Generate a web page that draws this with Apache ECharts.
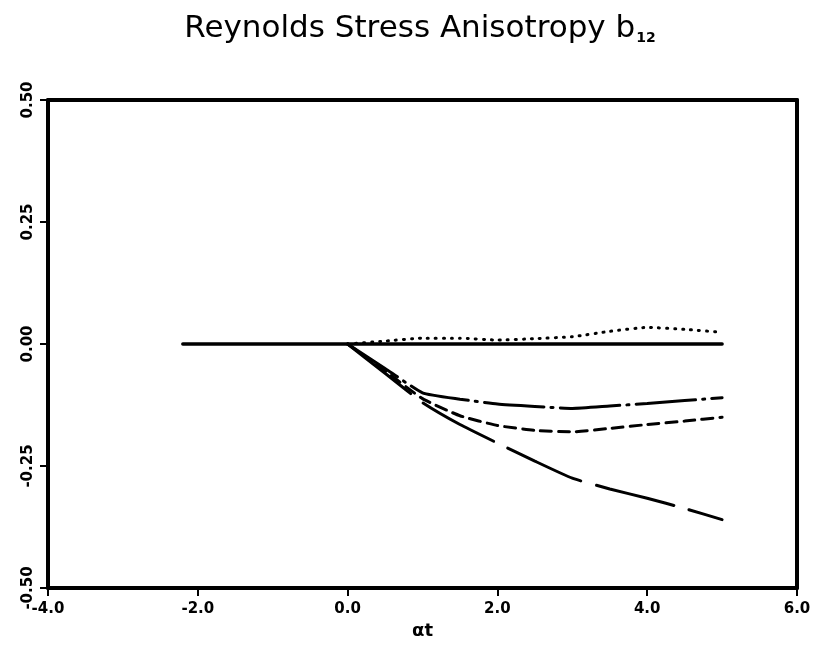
<!DOCTYPE html>
<html>
<head>
<meta charset="utf-8">
<script src="https://cdn.jsdelivr.net/npm/echarts@6/dist/echarts.min.js"></script>
<style>
  html, body { margin: 0; padding: 0; background: #fff; }
  #main { width: 836px; height: 650px; }
</style>
</head>
<body>
<div id="main"></div>
<script>
// data: b12 against alpha*t
var solidX = [-2.2, 0.0, 1.0, 2.0, 3.0, 4.0, 5.0];
var solidY = [0.0, 0.0, 0.0, 0.0, 0.0, 0.0, 0.0];

var curveX = [0.0, 0.5, 1.0, 1.5, 2.0, 2.5, 3.0, 3.5, 4.0, 4.5, 5.0];
var dotY = [0.0, 0.006, 0.012, 0.012, 0.008, 0.011, 0.015, 0.026, 0.034, 0.030, 0.024];
var dashDotY = [0.0, -0.05, -0.1, -0.113, -0.123, -0.128, -0.132, -0.127, -0.122, -0.116, -0.11];
var dashY = [0.0, -0.055, -0.112, -0.147, -0.167, -0.177, -0.18, -0.173, -0.165, -0.158, -0.15];
var longDashY = [0.0, -0.06, -0.12, -0.165, -0.203, -0.24, -0.275, -0.297, -0.316, -0.337, -0.36];

var xTicks = [-4.0, -2.0, 0.0, 2.0, 4.0, 6.0];
var yTicks = [-0.5, -0.25, 0.0, 0.25, 0.5];

function pairs(xs, ys) {
	var out = [];
	for (var i = 0; i < xs.length; i++) {
		out.push([xs[i], ys[i]]);
	}
	return out;
}

var myChart = echarts.init(document.getElementById('main'));

function lineSeries(name, xs, ys, dash, w) {
	return {
		type: 'line',
		name: name,
		data: pairs(xs, ys),
		symbol: 'none',
		smooth: 0.15,
		lineStyle: {
			color: '#000',
			width: w || 3,
			type: dash,
			cap: 'round'
		}
	};
}

// plain frame axis for the top / right edges
function frameAxis(pos, min, max) {
	return {
		type: 'value', min: min, max: max, position: pos,
		axisLine: { show: true, onZero: false, lineStyle: { color: '#000', width: 4 } },
		axisTick: { show: false }, axisLabel: { show: false }, splitLine: { show: false }
	};
}

var option = {
	animation: false,
	backgroundColor: '#fff',
	title: {
		text: 'Reynolds Stress Anisotropy b{s|12}',
		left: 415,
		top: 8,
		textAlign: 'center',
		textStyle: {
			fontFamily: 'DejaVu Sans',
			fontSize: 31,
			fontWeight: 'normal',
			color: '#000',
			rich: {
				s: {
					fontFamily: 'DejaVu Sans',
					fontSize: 14,
					fontWeight: 'bold',
					color: '#000',
					verticalAlign: 'bottom',
					padding: [18, 0, 0, 1]
				}
			}
		}
	},
	grid: {
		left: 48,
		right: 39,
		top: 100,
		bottom: 62
	},
	xAxis: [{
		type: 'value',
		min: xTicks[0],
		max: xTicks[xTicks.length - 1],
		interval: 2,
		name: 'αt',
		nameLocation: 'middle',
		nameGap: 34,
		nameTextStyle: {
			fontFamily: 'DejaVu Sans',
			fontSize: 18,
			fontWeight: 'bold',
			color: '#000'
		},
		axisLine: { show: true, onZero: false, lineStyle: { color: '#000', width: 4 } },
		axisTick: { show: true, inside: false, length: 8, lineStyle: { color: '#000', width: 2 } },
		splitLine: { show: false },
		axisLabel: {
			color: '#000',
			fontFamily: 'DejaVu Sans',
			fontWeight: 'bold',
			fontSize: 15,
			margin: 14,
			formatter: function (v) { return v.toFixed(1); }
		}
	}, frameAxis('top', xTicks[0], xTicks[xTicks.length - 1])],
	yAxis: [{
		type: 'value',
		min: yTicks[0],
		max: yTicks[yTicks.length - 1],
		interval: 0.25,
		axisLine: { show: true, onZero: false, lineStyle: { color: '#000', width: 4 } },
		axisTick: { show: true, inside: false, length: 8, lineStyle: { color: '#000', width: 2 } },
		splitLine: { show: false },
		axisLabel: {
			color: '#000',
			fontFamily: 'DejaVu Sans',
			fontWeight: 'bold',
			fontSize: 15,
			rotate: 90,
			margin: 12,
			align: 'center',
			verticalAlign: 'bottom',
			formatter: function (v) { return v.toFixed(2); }
		}
	}, frameAxis('right', yTicks[0], yTicks[yTicks.length - 1])],
	series: [
		lineSeries('solid', solidX, solidY, 'solid', 3.5),
		lineSeries('dotted', curveX, dotY, [1, 7]),
		lineSeries('dashdot', curveX, dashDotY, [60, 7, 2, 7]),
		lineSeries('dashed', curveX, dashY, [11, 7]),
		lineSeries('longdash', curveX, longDashY, [80, 16])
	]
};

myChart.setOption(option);
</script>
</body>
</html>
